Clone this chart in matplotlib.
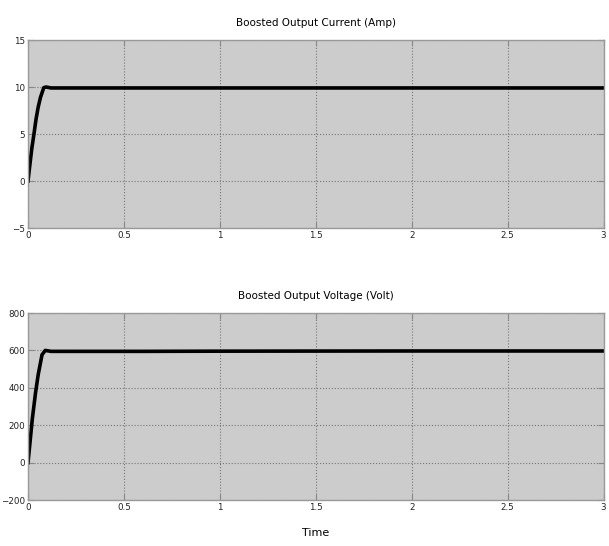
import matplotlib.pyplot as plt

# simulation output
t_current = [0, 0.01, 0.02, 0.031, 0.042, 0.053, 0.065, 0.075, 0.082, 0.094, 0.12, 0.3, 0.6, 1.0, 2.0, 3.0]
current = [0, 1.8, 3.5, 5.0, 6.6, 7.86, 8.9, 9.5, 9.93, 10.0, 9.9, 9.9, 9.9, 9.9, 9.9, 9.9]

t_voltage = [0, 0.022, 0.039, 0.053, 0.073, 0.09, 0.12, 0.3, 0.6, 1.0, 2.0, 3.0]
voltage = [0, 230, 372, 470, 577, 600, 595, 595, 595, 596, 597, 597]

cur_ticks = [-5, 0, 5, 10, 15]
volt_ticks = [-200, 0, 200, 400, 600, 800]
time_ticks = [0, 0.5, 1, 1.5, 2, 2.5, 3]
time_labels = ['0', '0.5', '1', '1.5', '2', '2.5', '3']

plt.rcParams['font.family'] = ['DejaVu Sans']

fig = plt.figure(figsize=(6.09, 5.46), dpi=100)
ax1 = fig.add_axes([0.046, 0.5824, 0.945, 0.3443])
ax2 = fig.add_axes([0.046, 0.0842, 0.945, 0.3425])


def style(ax, yticks):
    ax.set_facecolor('#cccccc')
    ax.set_xlim(0, 3)
    ax.set_ylim(yticks[0], yticks[-1])
    ax.set_xticks(time_ticks)
    ax.set_xticklabels(time_labels)
    ax.set_yticks(yticks)
    ax.grid(True, color='#777777', linestyle=':', linewidth=0.8)
    ax.tick_params(direction='in', length=4, color='#888888', top=True, right=True,
                   labelcolor='#222222', labelsize=6.3, pad=2)
    for s in ax.spines.values():
        s.set_color('#999999')
        s.set_linewidth(1)


ax1.plot(t_current, current, color='black', linewidth=2.6)
style(ax1, cur_ticks)
ax1.set_title('Boosted Output Current (Amp)', fontsize=7.5, pad=10)

ax2.plot(t_voltage, voltage, color='black', linewidth=2.6)
style(ax2, volt_ticks)
ax2.set_title('Boosted Output Voltage (Volt)', fontsize=7.5, pad=10)
ax2.set_xlabel('Time', fontsize=8, labelpad=12)

fig.savefig('out.png', dpi=100)
